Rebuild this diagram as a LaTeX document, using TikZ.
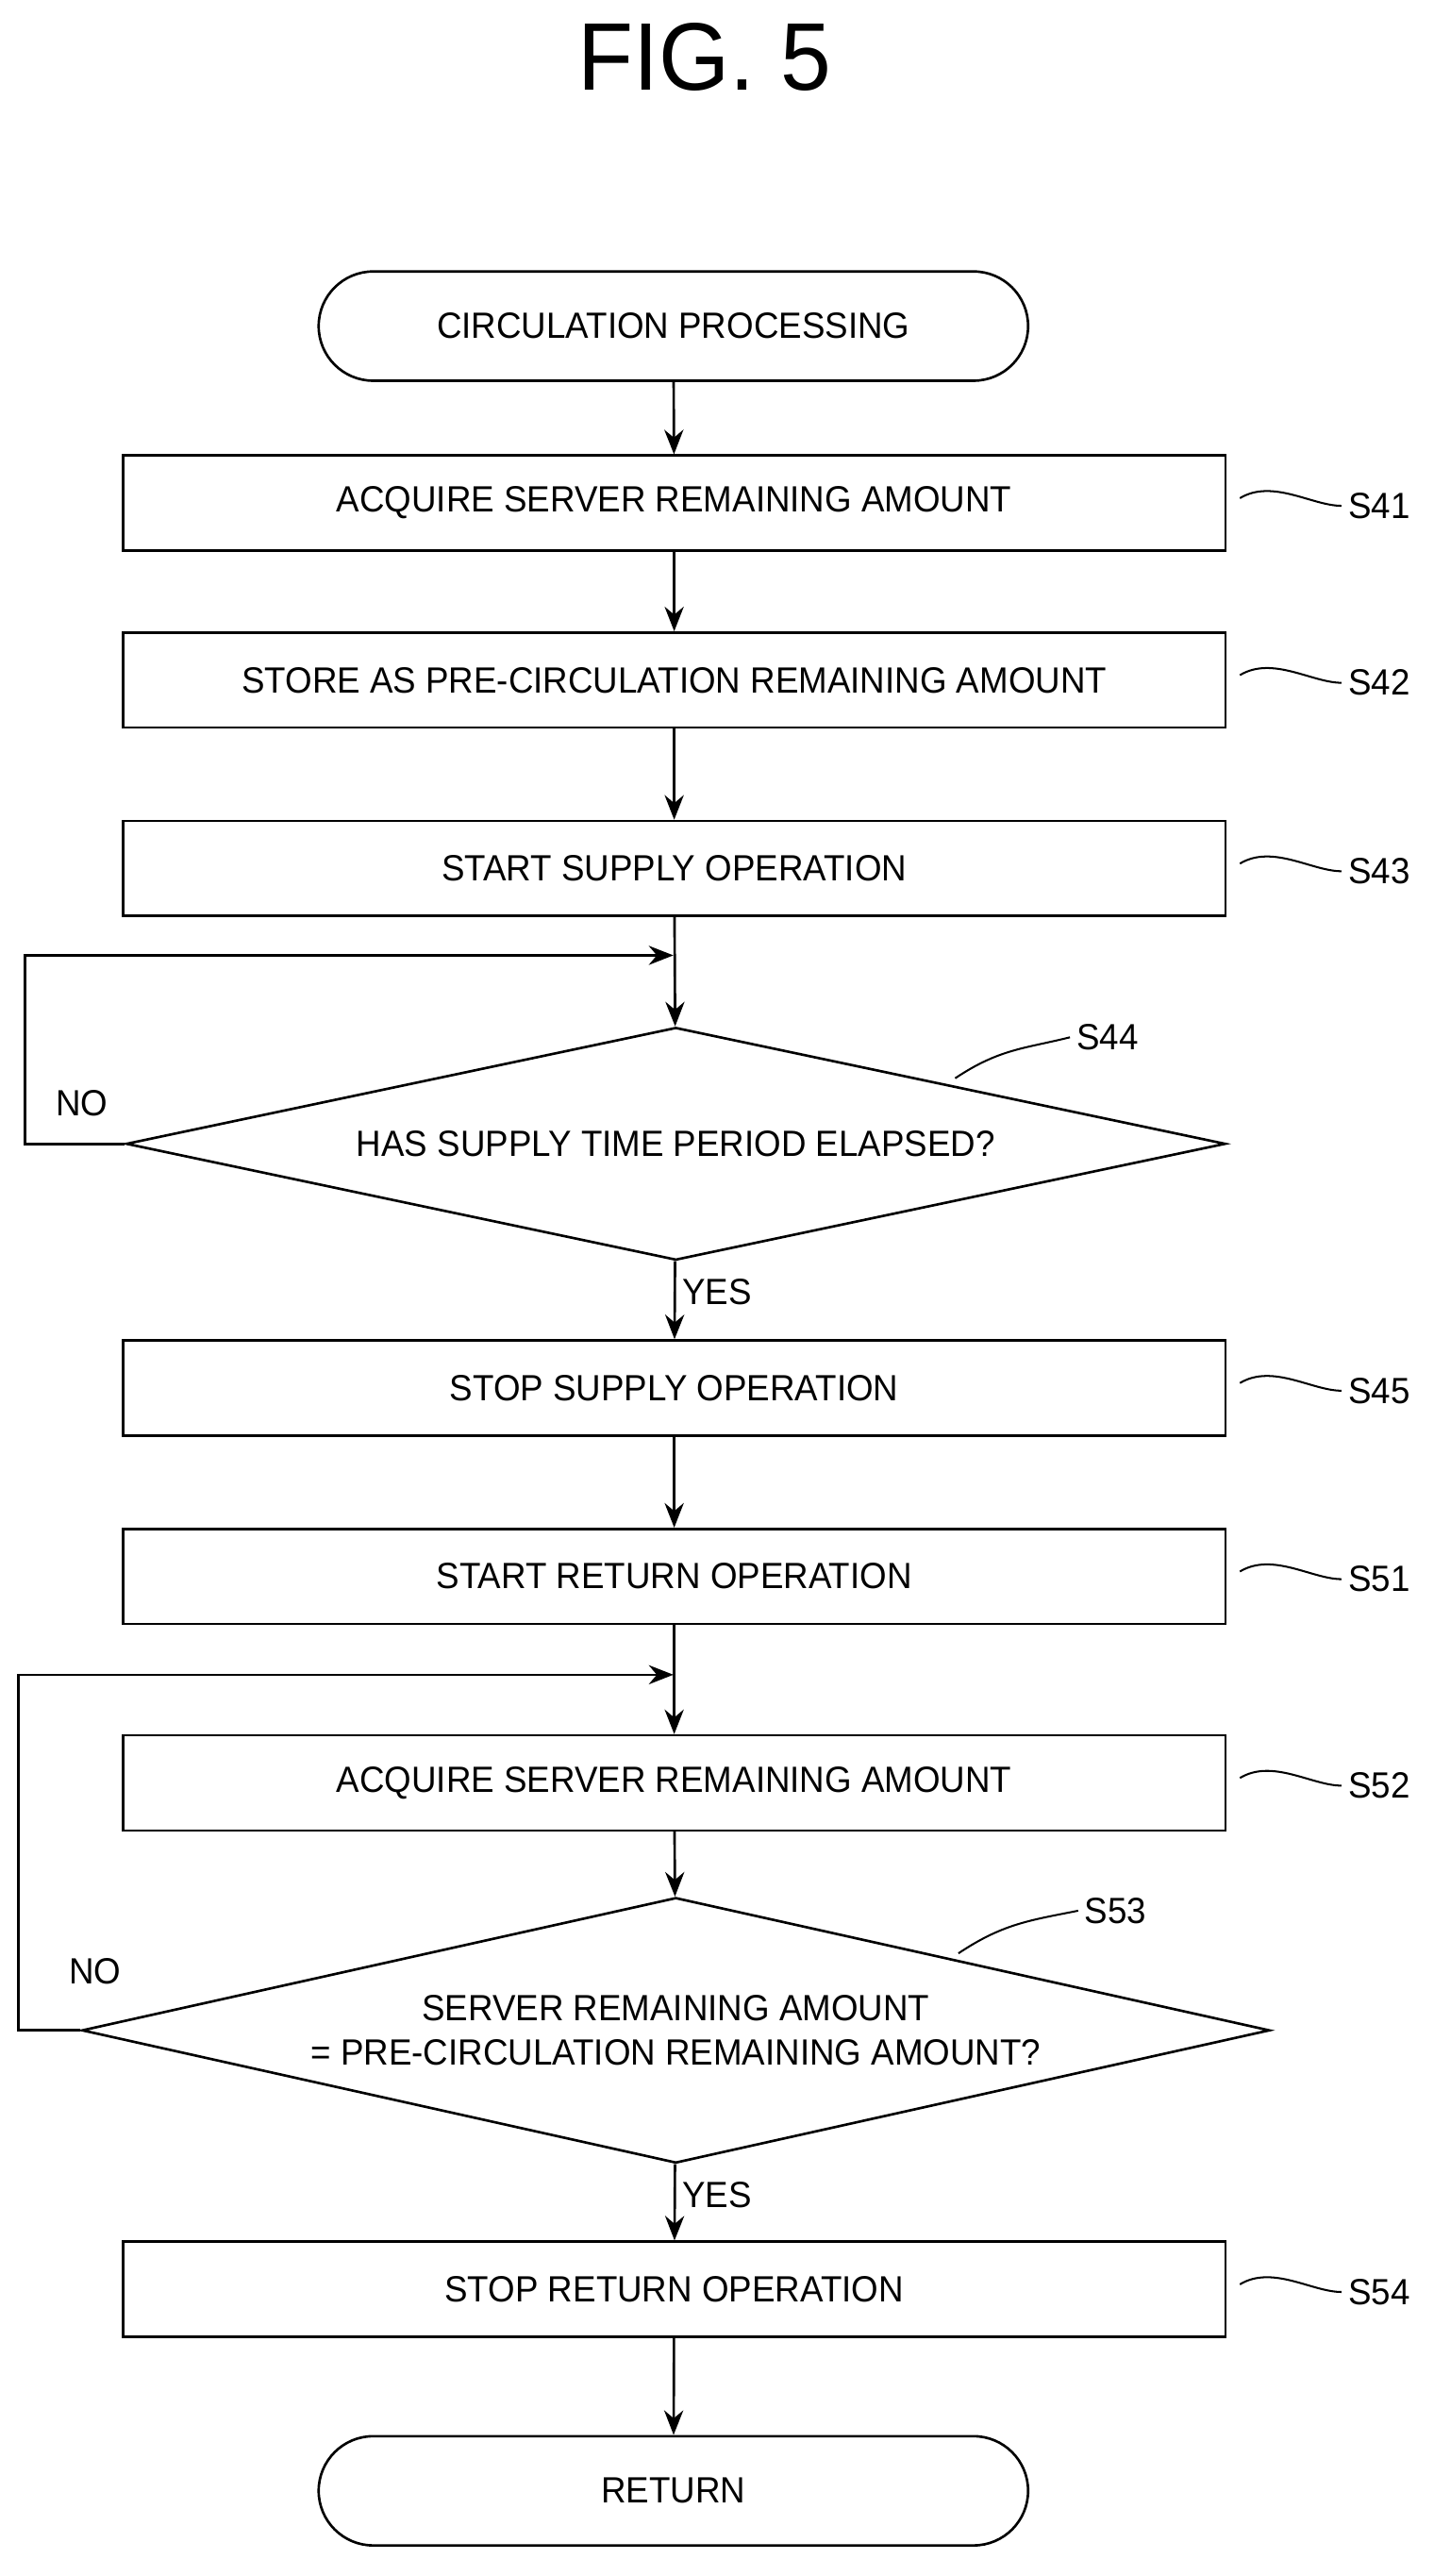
\documentclass[tikz,border=0pt]{standalone}
\usepackage{fontspec}
\setmainfont[FakeStretch=0.95]{Liberation Sans}
\usetikzlibrary{arrows}
\usetikzlibrary{arrows.meta}
\usetikzlibrary{shapes.geometric}
\usetikzlibrary{positioning}
\tikzset{
    proc/.style = {rectangle, draw=black, line width=1.3pt, minimum width=20.19cm, minimum height=1.74cm, inner sep=0pt, font=\fontsize{19}{23}\selectfont},
    term/.style = {rectangle, rounded corners=1cm, draw=black, line width=1.3pt, minimum width=12.99cm, minimum height=2cm, font=\fontsize{19}{23}\selectfont},
    test/.style = {diamond, draw=black, line width=1.3pt, inner sep=0pt, align=center, font=\fontsize{19}{23}\selectfont},
    tag/.style = {font=\fontsize{19}{23}\selectfont},
    flow/.style = {-{Stealth[length=0.45cm,width=0.35cm]}, line width=1.3pt}
}
\begin{document}
\begin{tikzpicture}[x=0.03cm,y=-0.03cm]
            \useasboundingbox (0,0) rectangle (875,1572);
            \node [font=\fontsize{50}{60}\selectfont] (fig) at (430,35) {FIG. 5};

            % main column
            \node [term] (start) at (411,199) {CIRCULATION PROCESSING};
            \node [proc] (s41) at (411.5,307) {ACQUIRE SERVER REMAINING AMOUNT};
            \node [proc] (s42) at (411.5,415) {STORE AS PRE-CIRCULATION REMAINING AMOUNT};
            \node [proc] (s43) at (411.5,530) {START SUPPLY OPERATION};
            \node [test, aspect=4.73, minimum width=20.13cm, minimum height=4.26cm] (s44) at (412.5,698) {HAS SUPPLY TIME PERIOD ELAPSED?};
            \node [proc] (s45) at (411.5,847) {STOP SUPPLY OPERATION};
            \node [proc] (s51) at (411.5,962) {START RETURN OPERATION};
            \node [proc] (s52) at (411.5,1088) {ACQUIRE SERVER REMAINING AMOUNT};
            \node [test, aspect=4.48, minimum width=21.75cm, minimum height=4.86cm] (s53) at (412.5,1239) {SERVER REMAINING AMOUNT\\= PRE-CIRCULATION REMAINING AMOUNT?};
            \node [proc] (s54) at (411.5,1397) {STOP RETURN OPERATION};
            \node [term] (ret) at (411,1520) {RETURN};

            \coordinate (j44) at (411,583);
            \coordinate (j52) at (411,1022);

            \draw [flow] (start) -- (s41);
            \draw [flow] (s41) -- (s42);
            \draw [flow] (s42) -- (s43);
            \draw [flow] (s43) -- (s44);
            \draw [flow] (s44) -- node [tag, right, pos=0.4] {YES} (s45);
            \draw [flow] (s45) -- (s51);
            \draw [flow] (s51) -- (s52);
            \draw [flow] (s52) -- (s53);
            \draw [flow] (s53) -- node [tag, right, pos=0.4] {YES} (s54);
            \draw [flow] (s54) -- (ret);

            % loops
            \draw [flow] (s44.west) -- ++(-61,0) |- (j44);
            \draw [flow] (s53.west) -- ++(-38,0) |- (j52);
            \node [tag] (no44) at (50,673) {NO};
            \node [tag] (no53) at (58,1203) {NO};

            % step labels
            \foreach \s/\t in {s41/S41, s42/S42, s43/S43, s45/S45, s51/S51, s52/S52, s54/S54} {
                \node [tag, right=70 of \s.east, yshift=-0.05cm] (l\s) {\t};
                \draw [line width=1pt] (\s.east) ++(8,-3) .. controls +(20,-12) and +(-18,0) .. (l\s.west);
            }
            \node [tag] (l44) at (676,633) {S44};
            \draw [line width=1pt] (583,658) .. controls (610,640) and (625,640) .. (l44.west);
            \node [tag] (l53) at (681,1166) {S53};
            \draw [line width=1pt] (585,1192) .. controls (612,1174) and (628,1172) .. (l53.west);
\end{tikzpicture}
\end{document}
